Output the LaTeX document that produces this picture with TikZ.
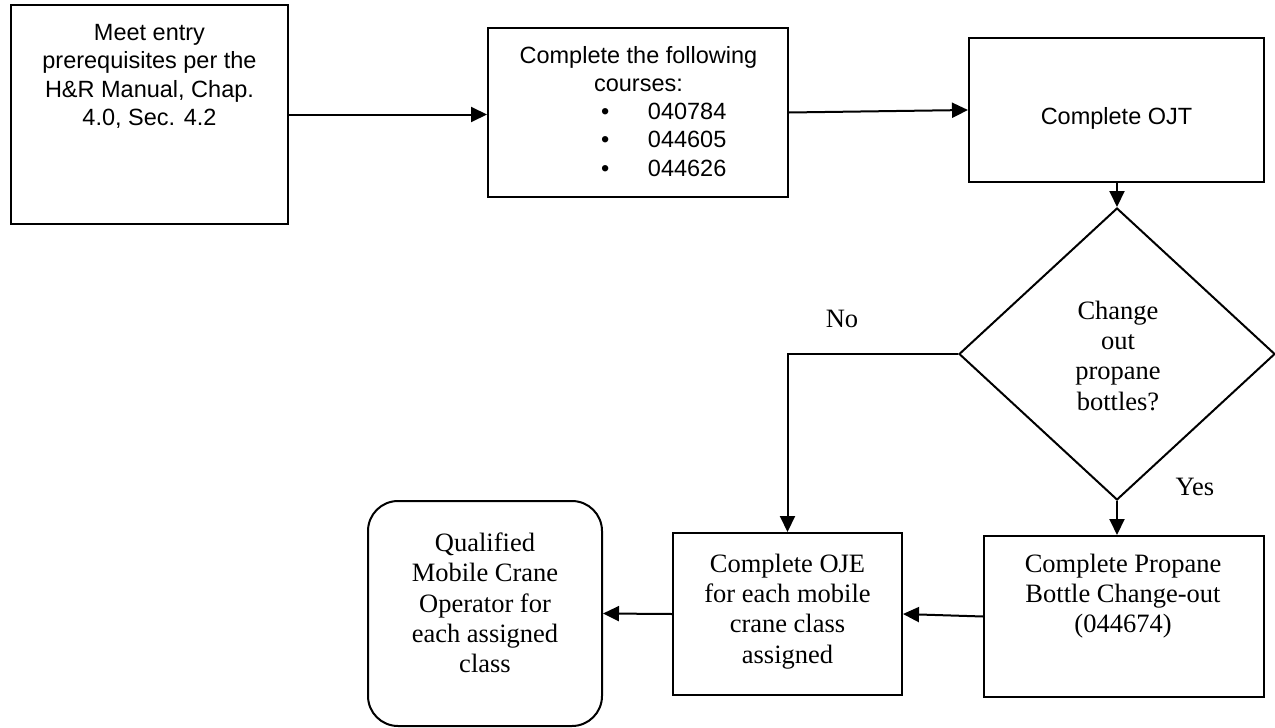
\documentclass[tikz,border=0pt]{standalone}
\usepackage{fontspec}
\setmainfont{Liberation Serif}
\newfontfamily\arialf{Liberation Sans}
\usetikzlibrary{shapes.geometric,arrows.meta}
\begin{document}
\begin{tikzpicture}[x=1pt,y=-1pt,
  line width=2pt,
  boxst/.style={draw=black,rectangle,inner sep=0pt,line width=2pt},
  sanstxt/.style={inner sep=0pt,align=center,anchor=north,font=\arialf\fontsize{23.5}{28.5}\selectfont},
  seriftxt/.style={inner sep=0pt,align=center,anchor=north,font=\fontsize{26.5}{30.3}\selectfont},
  lbl/.style={inner sep=0pt,anchor=base,font=\fontsize{26.5}{30.3}\selectfont},
  arr/.style={-{Triangle[length=16pt,width=15pt]},line width=2pt}]
\useasboundingbox (0,0) rectangle (1275,728);
\fill[white] (0,0) rectangle (1275,728);
% boxes
\node[boxst,minimum width=277pt,minimum height=219pt] (b1) at (149.5,114.5) {};
\node[boxst,minimum width=300pt,minimum height=169pt] (b2) at (638,112.5) {};
\node[boxst,minimum width=295pt,minimum height=144pt] (b3) at (1116.5,110) {};
\node[draw=black,shape=diamond,inner sep=0pt,minimum width=316pt,minimum height=292pt,line width=2pt] (dia) at (1117,354) {};
\node[boxst,minimum width=280pt,minimum height=161pt] (prop) at (1124,616.5) {};
\node[boxst,minimum width=229pt,minimum height=162pt] (oje) at (787.5,614) {};
\node[boxst,rounded corners=30pt,minimum width=234pt,minimum height=225pt] (fin) at (485,613.5) {};
% texts
\node[sanstxt] (t1) at (149.5,23.3) {Meet entry\\prerequisites per the\\H\&R Manual, Chap.\\4.0, Sec. 4.2};
\node[sanstxt] (t2) at (638.5,45) {Complete the following\\courses:};
\node[sanstxt,anchor=north west,align=left] (t2l) at (600,101.7) {\makebox[47pt][l]{•}040784\\\makebox[47pt][l]{•}044605\\\makebox[47pt][l]{•}044626};
\node[sanstxt,anchor=center] (t3) at (1116.5,118.5) {Complete OJT};
\node[seriftxt] (td) at (1118,300) {Change\\out\\propane\\bottles?};
\node[seriftxt] (tp) at (1123,553) {Complete Propane\\Bottle Change-out\\(044674)};
\node[seriftxt] (to) at (787.5,553) {Complete OJE\\for each mobile\\crane class\\assigned};
\node[seriftxt] (tf) at (485,532) {Qualified\\Mobile Crane\\Operator for\\each assigned\\class};
\node[lbl] (no) at (842,327) {No};
\node[lbl] (yes) at (1195,495.5) {Yes};
% connectors
\draw[arr] (b1.east) -- (b1.east -| b2.west);
\draw[arr] (b2.east) -- (b3.west);
\draw[arr] (b3.south -| dia.north) -- (dia.north);
\draw[arr] (dia.west) -| (oje.north);
\draw[arr] (dia.south) -- (dia.south |- prop.north);
\draw[arr] (prop.west) -- (oje.east);
\draw[arr] (oje.west) -- (fin.east);
\end{tikzpicture}
\end{document}
